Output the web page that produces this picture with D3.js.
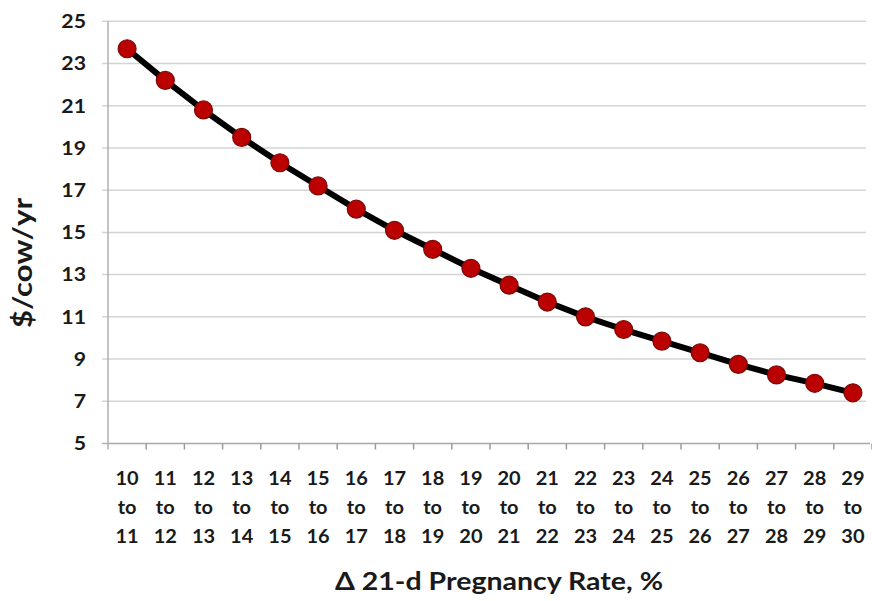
<!DOCTYPE html>
<html>
<head>
<meta charset="utf-8">
<script src="https://cdn.jsdelivr.net/npm/d3@7"></script>
<style>
  html, body { margin: 0; padding: 0; background: #fff; }
  svg { display: block; font-family: Lato, "Open Sans", sans-serif; }
</style>
</head>
<body>
<svg id="chart" width="872" height="601"></svg>
<script>
// ---- data ----
const fromRates = [10,11,12,13,14,15,16,17,18,19,20,21,22,23,24,25,26,27,28,29];
const toRates   = [11,12,13,14,15,16,17,18,19,20,21,22,23,24,25,26,27,28,29,30];
const values    = [23.7,22.2,20.8,19.5,18.3,17.2,16.1,15.1,14.2,13.3,12.5,11.7,11.0,10.4,9.85,9.3,8.75,8.25,7.85,7.4];
const yTicks    = [5,7,9,11,13,15,17,19,21,23,25];
const yLabel = "$/cow/yr";
const xLabel = "\u0394 21-d Pregnancy Rate, %";

(function() {
const categories = fromRates.map((f, i) => f + "-" + toRates[i]);

const svg = d3.select("#chart");
const pLeft = 108, pRight = 872, pTop = 21.3, pBottom = 443.5;

const x = d3.scaleBand().domain(categories).range([pLeft, pRight]).padding(0);
const y = d3.scaleLinear().domain([5, 25]).range([pBottom, pTop]);

// gridlines
svg.append("g").selectAll("line").data(yTicks.filter(t => t !== 5)).join("line")
  .attr("x1", pLeft - 6).attr("x2", 866)
  .attr("y1", d => y(d)).attr("y2", d => y(d))
  .attr("stroke", "#d4d4d4").attr("stroke-width", 1.5);

// y axis line + ticks
svg.append("line").attr("x1", pLeft).attr("x2", pLeft).attr("y1", pTop).attr("y2", pBottom + 6)
  .attr("stroke", "#b0b0b0").attr("stroke-width", 1.5);
svg.append("line").attr("x1", pLeft - 6).attr("x2", pLeft).attr("y1", pBottom).attr("y2", pBottom)
  .attr("stroke", "#b0b0b0").attr("stroke-width", 1.5);

// x axis line
svg.append("line").attr("x1", pLeft).attr("x2", 870).attr("y1", pBottom).attr("y2", pBottom)
  .attr("stroke", "#a8a8a8").attr("stroke-width", 1.5);
// x ticks at band boundaries
const boundaries = categories.map(c => x(c)).concat([x(categories[categories.length-1]) + x.bandwidth()]);
svg.append("g").selectAll("line").data(boundaries.slice(1)).join("line")
  .attr("x1", d => d).attr("x2", d => d)
  .attr("y1", pBottom).attr("y2", pBottom + 6)
  .attr("stroke", "#9a9a9a").attr("stroke-width", 1.5);

// y tick labels
svg.append("g").selectAll("text").data(yTicks).join("text")
  .attr("x", 86).attr("y", d => y(d))
  .attr("dy", "0.36em")
  .attr("text-anchor", "end")
  .attr("font-size", 19).attr("font-weight", 700).attr("fill", "#1a1a1a")
  .attr("transform", d => `translate(86,${y(d)}) scale(1.12,1) translate(-86,${-y(d)})`)
  .text(d => d);

// x tick labels (3 lines)
const xl = svg.append("g").selectAll("text").data(categories).join("text")
  .attr("text-anchor", "middle")
  .attr("font-size", 18.5).attr("font-weight", 700).attr("fill", "#1a1a1a");
xl.each(function(d, i) {
  const cx = x(d) + x.bandwidth() / 2;
  const t = d3.select(this);
  t.attr("transform", `translate(${cx},0) scale(1.08,1) translate(${-cx},0)`);
  t.append("tspan").attr("x", cx).attr("y", 485).text(fromRates[i]);
  t.append("tspan").attr("x", cx).attr("y", 514).text("to");
  t.append("tspan").attr("x", cx).attr("y", 543).text(toRates[i]);
});

// axis titles
svg.append("text")
  .attr("transform", "translate(32,263) rotate(-90)")
  .attr("text-anchor", "middle")
  .attr("font-size", 26).attr("font-weight", 700).attr("fill", "#1a1a1a")
  .attr("textLength", 130).attr("lengthAdjust", "spacingAndGlyphs")
  .text(yLabel);

svg.append("text")
  .attr("x", 499).attr("y", 590)
  .attr("text-anchor", "middle")
  .attr("font-size", 24).attr("font-weight", 700).attr("fill", "#1a1a1a")
  .attr("textLength", 328).attr("lengthAdjust", "spacingAndGlyphs")
  .text(xLabel);

// line
const line = d3.line()
  .x((d, i) => x(categories[i]) + x.bandwidth() / 2)
  .y(d => y(d));
svg.append("path").datum(values)
  .attr("d", line)
  .attr("fill", "none").attr("stroke", "#000").attr("stroke-width", 6)
  .attr("stroke-linejoin", "round");

// markers
svg.append("g").selectAll("circle").data(values).join("circle")
  .attr("cx", (d, i) => x(categories[i]) + x.bandwidth() / 2)
  .attr("cy", d => y(d))
  .attr("r", 9)
  .attr("fill", "#bb0000")
  .attr("stroke", "#7a0a0a").attr("stroke-width", 1.2);
})();
</script>
</body>
</html>
